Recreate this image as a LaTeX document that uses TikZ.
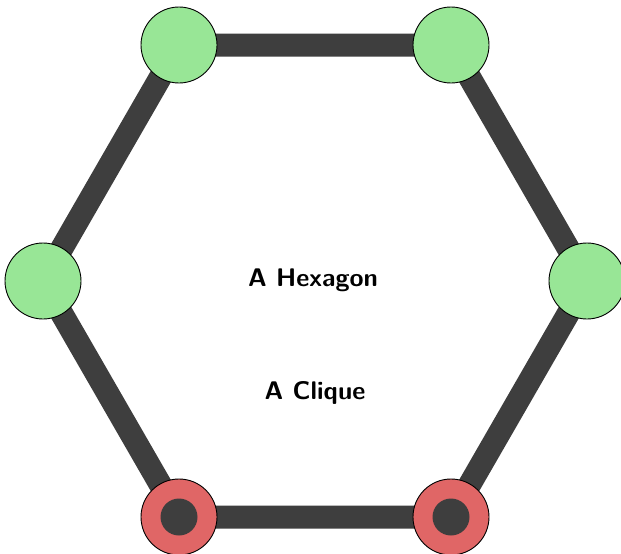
\documentclass[tikz,border=0pt]{standalone}
\definecolor{vgreen}{RGB}{152,230,150}
\definecolor{vred}{RGB}{224,102,102}
\definecolor{edgegray}{RGB}{62,62,62}
\tikzset{
  edgeline/.style={draw=edgegray, line width=23pt},
  vtx/.style={circle, draw=black, line width=0.9pt, minimum size=76pt, inner sep=0pt},
  gvtx/.style={vtx, fill=vgreen},
  rvtx/.style={vtx, fill=vred},
  dot/.style={circle, fill=edgegray, minimum size=37pt, inner sep=0pt},
  lbl/.style={font=\fontsize{25.5}{30}\selectfont\sffamily\bfseries}
}
\begin{document}
\begin{tikzpicture}[x=1pt,y=-1pt]
\useasboundingbox (0,0) rectangle (621,554);
\coordinate (cTL) at (179,45);
\coordinate (cTR) at (451,45);
\coordinate (cL) at (43,281);
\coordinate (cR) at (587,281);
\coordinate (cBL) at (179,517);
\coordinate (cBR) at (451,517);
\draw[edgeline] (cTL) -- (cTR) -- (cR) -- (cBR) -- (cBL) -- (cL) -- cycle;
\node[gvtx] (TL) at (cTL) {};
\node[gvtx] (TR) at (cTR) {};
\node[gvtx] (L) at (cL) {};
\node[gvtx] (R) at (cR) {};
\node[rvtx] (BL) at (cBL) {};
\node[rvtx] (BR) at (cBR) {};
\node[dot] (BLd) at (cBL) {};
\node[dot] (BRd) at (cBR) {};
\node[lbl] (hex) at (313,280) {A Hexagon};
\node[lbl] (clq) at (315,393) {A Clique};
\end{tikzpicture}
\end{document}
